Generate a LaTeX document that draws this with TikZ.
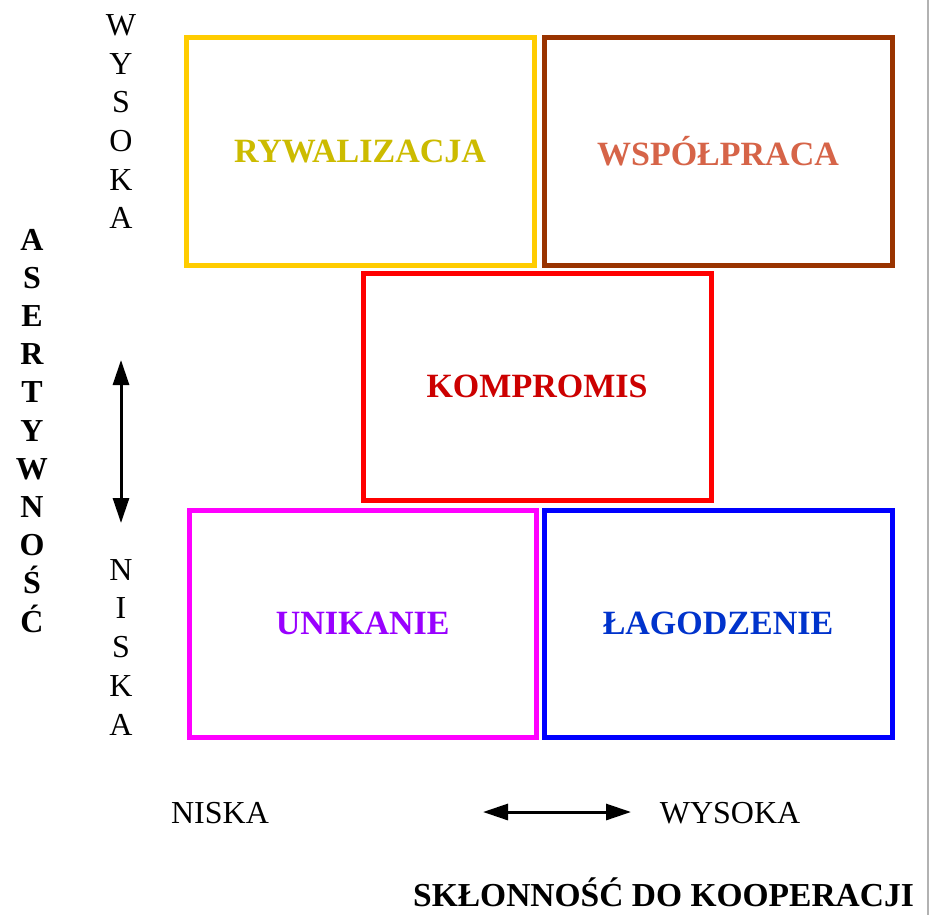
\documentclass[tikz,border=0pt]{standalone}
\usepackage{fontspec}
\setmainfont{Liberation Serif}
\usetikzlibrary{arrows.meta}
\definecolor{rywcol}{RGB}{255,204,0}
\definecolor{rywtxt}{RGB}{204,187,0}
\definecolor{wspcol}{RGB}{153,51,0}
\definecolor{wsptxt}{RGB}{214,100,72}
\definecolor{komcol}{RGB}{255,0,0}
\definecolor{komtxt}{RGB}{204,0,0}
\definecolor{unicol}{RGB}{255,0,255}
\definecolor{unitxt}{RGB}{153,0,255}
\definecolor{lagcol}{RGB}{0,0,255}
\definecolor{lagtxt}{RGB}{0,51,204}
\begin{document}
\begin{tikzpicture}[x=1pt, y=-1pt,
    stylebox/.style={draw, line width=5pt, minimum width=348pt, minimum height=227pt, inner sep=0pt},
    boxlabel/.style={font=\fontsize{34}{40}\selectfont\bfseries},
    axislabel/.style={font=\fontsize{32}{38}\selectfont, anchor=base, inner sep=0pt},
    dblarrow/.style={line width=3pt, {Triangle[length=25pt,width=16pt]}-{Triangle[length=25pt,width=16pt]}}]
    \useasboundingbox (0,0) rectangle (933,915);
    \fill[white] (0,0) rectangle (933,915);
    \draw[line width=2pt, black!30] (927.5,0) -- (927.5,915);
    % the five styles
    \node[stylebox, draw=rywcol, text=rywtxt, boxlabel] (ryw) at (360,151.5) {RYWALIZACJA};
    \node[stylebox, draw=wspcol, text=wsptxt, boxlabel] (wsp) at (718,151.5) {WSPÓŁPRACA};
    \node[stylebox, draw=komcol, text=komtxt, boxlabel] (kom) at (537,386.5) {KOMPROMIS};
    \node[stylebox, draw=unicol, text=unitxt, boxlabel, minimum width=347.5pt] (uni) at (362.75,623.5) {UNIKANIE};
    \node[stylebox, draw=lagcol, text=lagtxt, boxlabel] (lag) at (718,623.5) {ŁAGODZENIE};
    % vertical axis
    \foreach \l [count=\i from 0] in {W,Y,S,O,K,A}
      \node[axislabel] (wys\i) at (121,36+38.5*\i) {\l};
    \foreach \l [count=\i from 0] in {N,I,S,K,A}
      \node[axislabel] (nis\i) at (121,580+38.75*\i) {\l};
    \foreach \l [count=\i from 0] in {A,S,E,R,T,Y,W,N,O,Ś,Ć}
      \node[axislabel, font=\fontsize{32}{38}\selectfont\bfseries] (asr\i) at (32,250+38.2*\i) {\l};
    \coordinate (vtop) at (121,360);
    \coordinate (vbot) at (121,523);
    \draw[dblarrow] (vtop) -- (vbot);
    % horizontal axis
    \node[axislabel] (hnis) at (220,823) {NISKA};
    \node[axislabel] (hwys) at (730,823) {WYSOKA};
    \coordinate (hleft) at (483,812);
    \coordinate (hright) at (631,812);
    \draw[dblarrow] (hleft) -- (hright);
    \node[axislabel, anchor=base west, font=\fontsize{33.5}{40}\selectfont\bfseries] (koop) at (413,906) {SKŁONNOŚĆ DO KOOPERACJI};
\end{tikzpicture}
\end{document}
